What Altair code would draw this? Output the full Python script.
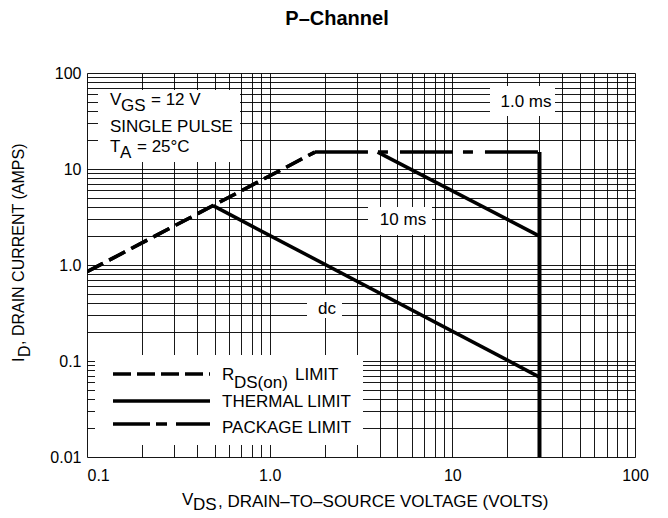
import altair as alt
import pandas as pd

FONT = "Liberation Sans, Arial, Helvetica, sans-serif"

# ---- data (V in volts, I in amps) ----
rds_v = [0.1, 1.77]
rds_i = [0.85, 15.0]
pkg_v = [1.77, 30.0]
pkg_i = [15.0, 15.0]
dc_v = [0.49, 30.0]
dc_i = [4.15, 0.068]
ms1_v = [3.9, 30.0]
ms1_i = [15.0, 2.0]
bv_v = [30.0, 30.0]
bv_i = [15.0, 0.01]

x_ticks = [0.1, 0.2, 0.3, 0.4, 0.5, 0.6, 0.7, 0.8, 0.9,
           1, 2, 3, 4, 5, 6, 7, 8, 9,
           10, 20, 30, 40, 50, 60, 70, 80, 90, 100]
y_ticks = [0.01, 0.02, 0.03, 0.04, 0.05, 0.06, 0.07, 0.08, 0.09,
           0.1, 0.2, 0.3, 0.4, 0.5, 0.6, 0.7, 0.8, 0.9,
           1, 2, 3, 4, 5, 6, 7, 8, 9,
           10, 20, 30, 40, 50, 60, 70, 80, 90, 100]


def frame(vs, is_):
    return pd.DataFrame({"v": vs, "i": is_, "o": list(range(len(vs)))})


W, H = 548, 384
GRID = "#000000"

xenc = alt.X(
    "v:Q",
    scale=alt.Scale(type="log", domain=[0.1, 100], nice=False),
    axis=alt.Axis(
        values=x_ticks, grid=True, ticks=False, domain=False, title=None,
        labelExpr="datum.value == 0.1 ? '0.1' : datum.value == 1 ? '1.0' : datum.value == 10 ? '10' : datum.value == 100 ? '100' : ''",
        labelAlign={"condition": {"test": "datum.value == 0.1", "value": "left"}, "value": "center"},
        labelPadding=10, labelFont=FONT, labelFontSize=16, labelColor="black",
        labelOverlap=False, labelBound=False,
        gridColor=GRID, gridWidth=1, gridOpacity=0.9,
    ),
)
yenc = alt.Y(
    "i:Q",
    scale=alt.Scale(type="log", domain=[0.01, 100], nice=False),
    axis=alt.Axis(
        values=y_ticks, grid=True, ticks=False, domain=False, title=None,
        labelExpr="datum.value == 0.01 ? '0.01' : datum.value == 0.1 ? '0.1' : datum.value == 1 ? '1.0' : datum.value == 10 ? '10' : datum.value == 100 ? '100' : ''",
        labelPadding=6, labelFont=FONT, labelFontSize=16, labelColor="black",
        labelOverlap=False, labelBound=False, labelBaseline="middle",
        gridColor=GRID, gridWidth=1, gridOpacity=0.9,
    ),
)


def curve(df, dash=None, width=3.5):
    kw = dict(color="black", strokeWidth=width, strokeCap="butt", clip=True)
    if dash:
        kw["strokeDash"] = dash
    return alt.Chart(df).mark_line(**kw).encode(x=xenc, y=yenc, order="o:Q")


one = alt.Data(values=[{"a": 1}])


def box(x1, x2, y1, y2):
    return alt.Chart(one).mark_rect(fill="white", stroke=None).encode(
        x=alt.value(x1), x2=alt.value(x2), y=alt.value(y1), y2=alt.value(y2))


def txt(s, x, y, size=17, align="left", angle=0, weight="normal"):
    return alt.Chart(one).mark_text(
        text=s, font=FONT, fontSize=size, align=align, baseline="middle",
        angle=angle, fontWeight=weight, color="black",
    ).encode(x=alt.value(x), y=alt.value(y))


def lrule(x1, x2, y, dash=None):
    kw = dict(color="black", strokeWidth=3.5, strokeCap="butt")
    if dash:
        kw["strokeDash"] = dash
    return alt.Chart(one).mark_rule(**kw).encode(
        x=alt.value(x1), x2=alt.value(x2), y=alt.value(y))


layers = [
    curve(frame(rds_v, rds_i), dash=[18, 7]),
    # white label boxes over the grid
    box(11, 153, 17, 89),
    box(403, 468, 13, 43),
    box(281, 345, 134, 162),
    box(220, 255, 222, 245),
    box(8, 276, 282, 372),
    curve(frame(rds_v, rds_i), dash=[18, 7]),
    curve(frame(pkg_v, pkg_i), dash=[53, 10, 10, 12]),
    curve(frame(dc_v, dc_i)),
    curve(frame(ms1_v, ms1_i)),
    curve(frame(bv_v, bv_i), width=4),
    # conditions box
    txt("V", 23, 27), txt("GS", 34, 33), txt("= 12 V", 64, 27),
    txt("SINGLE PULSE", 23, 54),
    txt("T", 23, 74), txt("A", 33, 80), txt("= 25°C", 50, 74),
    # curve labels
    txt("1.0 ms", 439, 29, align="center"),
    txt("10 ms", 316, 147, align="center"),
    txt("dc", 240, 236, align="center"),
    # legend
    lrule(26, 123, 301, dash=[18, 6]),
    lrule(26, 123, 328),
    lrule(26, 123, 351, dash=[37, 6, 11, 9]),
    txt("R", 135, 302), txt("DS(on)", 147, 310), txt("LIMIT", 208, 302),
    txt("THERMAL LIMIT", 135, 329),
    txt("PACKAGE LIMIT", 135, 355),
    # title and axis titles
    txt("P–Channel", 250, -54, size=20, align="center", weight="bold"),
    txt("V", 95, 427), txt("DS", 106, 432),
    txt(", DRAIN–TO–SOURCE VOLTAGE (VOLTS)", 131, 429),
    txt("I", -68, 289, angle=270, size=16), txt("D", -62, 284, angle=270, size=16),
    txt(", DRAIN CURRENT (AMPS)", -68, 272, angle=270, size=16),
]

chart = alt.layer(*layers).properties(
    width=W, height=H,
    autosize=alt.AutoSizeParams(type="none"),
    padding={"left": 79, "top": 65, "right": 25, "bottom": 58},
).configure_view(stroke="black", strokeWidth=2).configure(background="white")

chart.save("out.html", embed_options={"renderer": "svg", "actions": False})
